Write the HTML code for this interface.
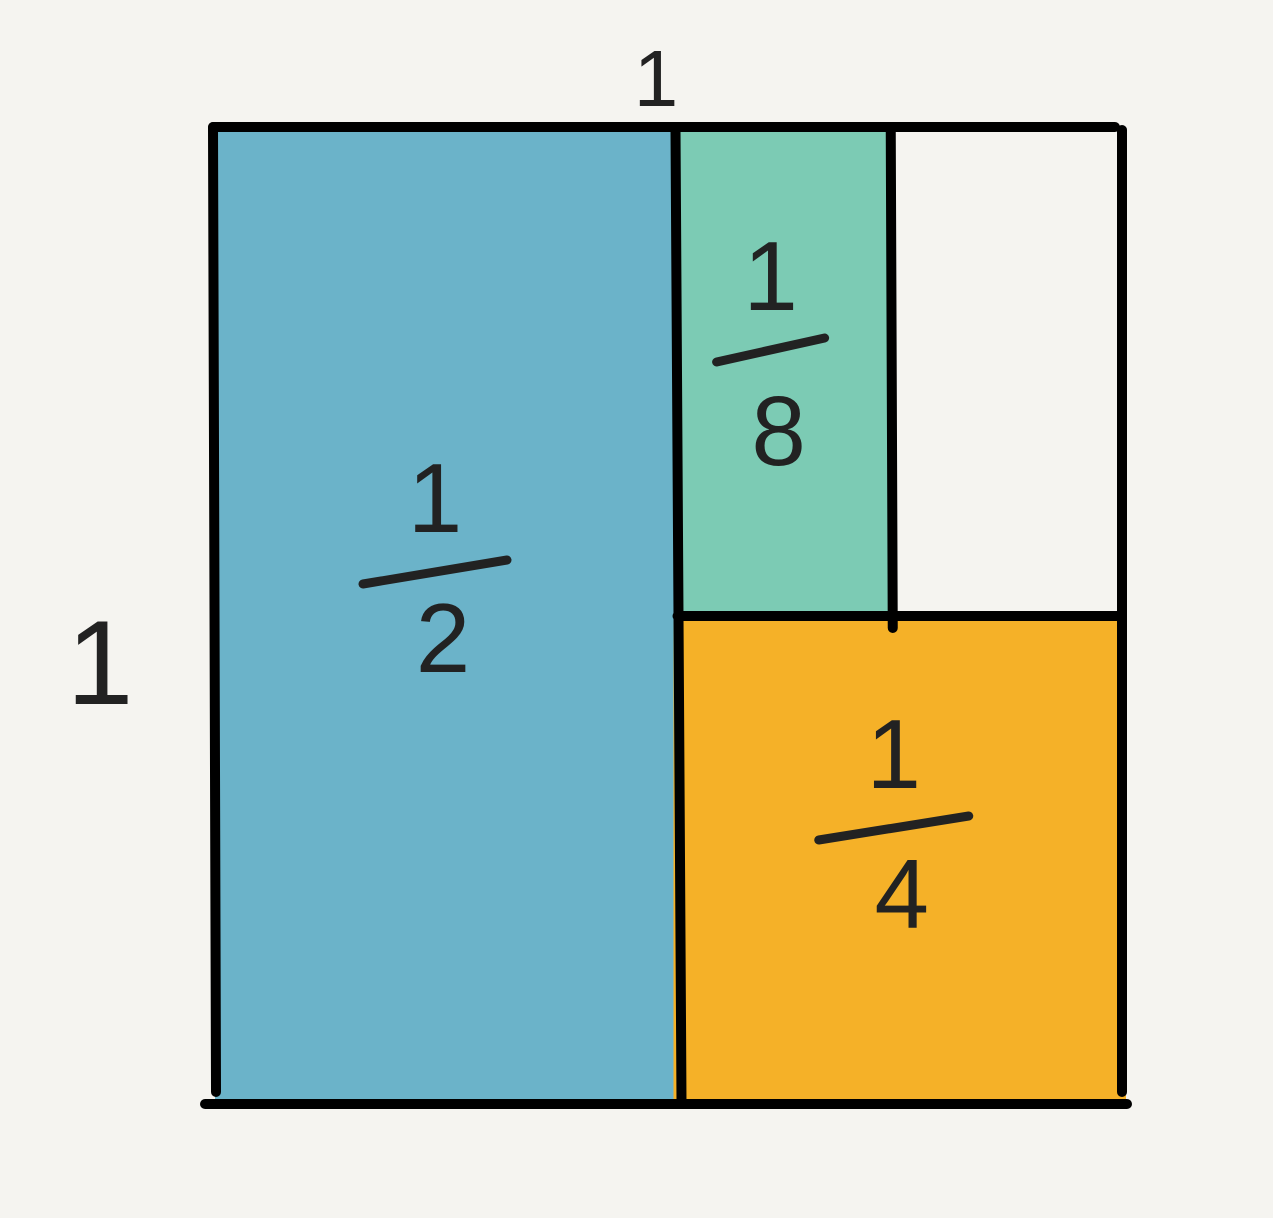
<!DOCTYPE html>
<html><head><meta charset="utf-8"><style>
html,body{margin:0;padding:0;background:#f5f4f0;}
svg{display:block;}
text{font-family:"Liberation Sans",sans-serif;fill:#222;}
</style></head><body>
<svg id="chart" width="1273" height="1218" viewBox="0 0 1273 1218">
<rect x="0" y="0" width="1273" height="1218" fill="#f5f4f0"/>
<g id="marks"></g>
</svg>
<script>
const labels = ["1/2", "1/4", "1/8"];
const numerators = [1, 1, 1];
const denominators = [2, 4, 8];
const colors = ["#6bb3c9", "#f5b128", "#7ccbb4"];

const X0 = 215, X1 = 1120, Y0 = 130, Y1 = 1102;
const W = X1 - X0, H = Y1 - Y0;
const sx = v => X0 + v * W;
const sy = v => Y0 + v * H;
const ns = "http://www.w3.org/2000/svg";
const g = document.getElementById('marks');
function el(tag, attrs) { const e = document.createElementNS(ns, tag); for (const k in attrs) e.setAttribute(k, attrs[k]); g.appendChild(e); return e; }

const f = numerators.map((n, i) => n / denominators[i]);
const blueW = f[0];
const orW = 1 - blueW, orH = f[1] / orW;
const grH = 1 - orH, grW = f[2] / grH;
const rects = [
  {x: 0, y: 0, w: blueW, h: 1},
  {x: blueW, y: 1 - orH, w: orW, h: orH},
  {x: blueW, y: 0, w: grW, h: grH}
];
const names = ['half', 'quarter', 'eighth'];
rects.forEach((r, i) => {
  const e = el('rect', {x: sx(r.x) + (i ? 6 : 0), y: sy(r.y), width: r.w * W + (i === 0 ? 6 : i === 2 ? -6 : 0), height: r.h * H, fill: colors[i]});
  
  
});
const strokes = [
  [X0 - 2, Y0 - 3, X1 - 5, Y0 - 3], [X0 - 2, Y0 - 3, X0 + 1, Y1 - 10], [X1 + 2, Y0, X1 + 2, Y1 - 10],
  [205, Y1 + 2, 1127, Y1 + 2],
  [sx(blueW) + 8, Y0, sx(blueW) + 14, Y1],
  [sx(blueW) + 10, sy(1 - orH), X1, sy(1 - orH)],
  [sx(blueW + grW) - 3, Y0, sx(blueW + grW) - 1, sy(1 - orH) + 12]
];
strokes.forEach((l) => {
  const e = el('line', {x1: l[0], y1: l[1], x2: l[2], y2: l[3], stroke: '#000', 'stroke-width': 10, 'stroke-linecap': 'round'});
  
  
});
rects.forEach((r, i) => {
  const cx = i === 0 ? 435 : sx(r.x + r.w / 2) + (i === 1 ? 0 : -10);
  const cy = i === 0 ? 572 : i === 1 ? 828 : 350;
  const barHalf = i === 0 ? 72 : i === 1 ? 75 : 54;
  const t1 = el('text', {x: cx, y: cy - 40, 'font-size': 98, 'text-anchor': 'middle'});
  t1.textContent = numerators[i];
  
  
  const b = el('line', {x1: cx - barHalf, y1: cy + 12, x2: cx + barHalf, y2: cy - 12, stroke: '#222', 'stroke-width': 9, 'stroke-linecap': 'round'});
  
  
  const t2 = el('text', {x: cx + 8, y: cy + (i === 2 ? 115 : 100), 'font-size': 98, 'text-anchor': 'middle'});
  t2.textContent = denominators[i];
  
  
});
const topLabel = el('text', {x: 656, y: 106, 'font-size': 80, 'text-anchor': 'middle', fill: '#000'});
topLabel.textContent = '1';


const leftLabel = el('text', {x: 100, y: 704, 'font-size': 120, 'text-anchor': 'middle', fill: '#000'});
leftLabel.textContent = '1';


</script>
</body></html>
